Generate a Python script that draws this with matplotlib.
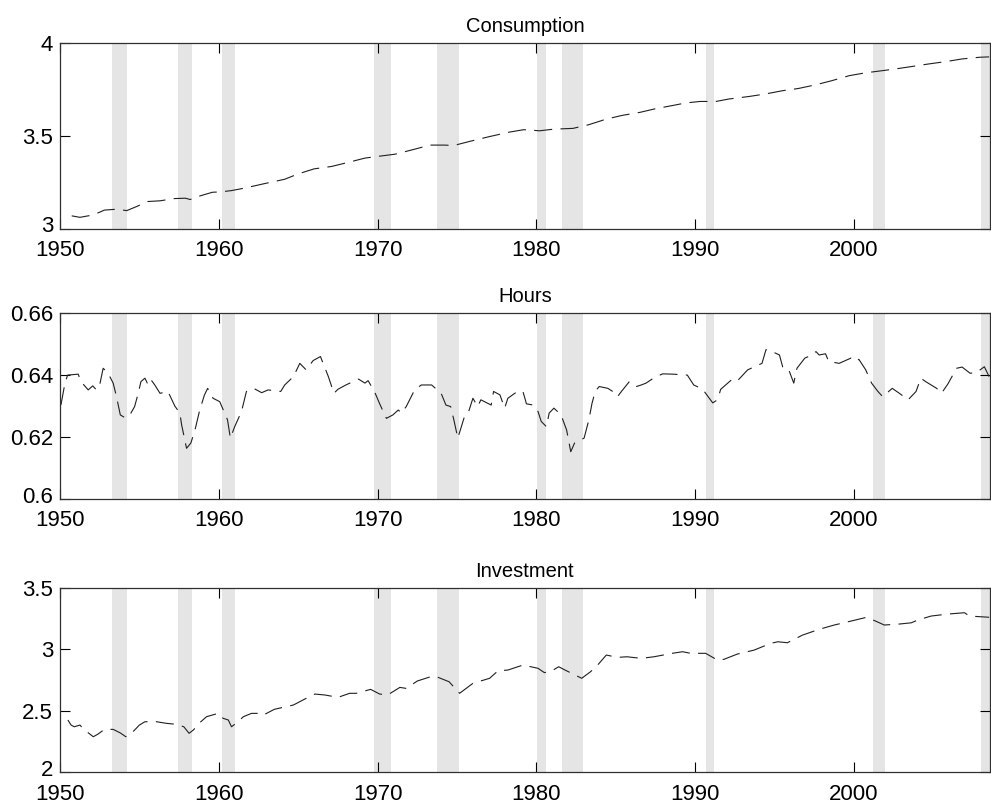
import matplotlib
matplotlib.use('Agg')
import numpy as np
from matplotlib import pyplot as plt
from matplotlib import transforms

# NBER recession bands
rec_start = [1953.25, 1957.44, 1960.21, 1969.77, 1973.75, 1980.04, 1981.6, 1990.67, 2001.2, 2007.97]
rec_end = [1954.2, 1958.32, 1961.0, 1970.82, 1975.1, 1980.63, 1982.9, 1991.2, 2001.97, 2009.5]

cons_year = [1950.74, 1951.26, 1952.1, 1952.8, 1953.6, 1954.2, 1954.85, 1955.5, 1956.3, 1957.2,
             1957.9, 1958.2, 1958.8, 1959.6, 1960.1, 1960.8, 1961.6, 1962.9, 1964.15, 1965.0,
             1966.0, 1967.1, 1968.2, 1969.2, 1970.0, 1971.1, 1972.2, 1973.3, 1974.2, 1974.8,
             1975.8, 1977.0, 1978.3, 1979.2, 1980.2, 1981.1, 1982.3, 1983.3, 1984.4, 1985.4,
             1986.5, 1987.5, 1988.5, 1989.4, 1990.3, 1991.3, 1992.1, 1993.4, 1994.4, 1995.5,
             1996.5, 1997.6, 1998.6, 1999.7, 2000.7, 2001.8, 2002.6, 2003.7, 2004.7, 2005.8,
             2006.8, 2007.9, 2008.5]
cons_val = [3.069, 3.061, 3.074, 3.100, 3.105, 3.097, 3.120, 3.146, 3.150, 3.162,
            3.164, 3.157, 3.176, 3.196, 3.198, 3.205, 3.218, 3.243, 3.266, 3.295,
            3.322, 3.335, 3.358, 3.380, 3.389, 3.401, 3.425, 3.450, 3.450, 3.448,
            3.470, 3.495, 3.520, 3.533, 3.527, 3.536, 3.540, 3.560, 3.590, 3.610,
            3.626, 3.646, 3.662, 3.677, 3.685, 3.685, 3.698, 3.712, 3.725, 3.743,
            3.755, 3.775, 3.797, 3.824, 3.839, 3.851, 3.860, 3.874, 3.887, 3.900,
            3.914, 3.923, 3.925]

hours_year = [1950.06, 1950.3, 1950.48, 1951.15, 1951.32, 1951.78, 1952.06, 1952.3, 1952.5, 1952.72,
              1953.03, 1953.35, 1953.56, 1953.8, 1954.1, 1954.4, 1954.7, 1954.9, 1955.1, 1955.35,
              1955.5, 1955.66, 1955.97, 1956.3, 1956.8, 1957.23, 1957.55, 1957.66, 1957.97, 1958.24,
              1958.5, 1958.8, 1959.1, 1959.3, 1959.64, 1960.06, 1960.55, 1960.73, 1961.0, 1961.43,
              1961.74, 1962.2, 1962.7, 1963.1, 1963.9, 1964.15, 1964.7, 1965.1, 1965.5, 1965.94,
              1966.4, 1966.9, 1967.25, 1967.5, 1968.0, 1968.8, 1969.2, 1969.4, 1969.8, 1970.13,
              1970.55, 1970.96, 1971.3, 1971.5, 1971.8, 1972.33, 1972.75, 1973.4, 1974.0, 1974.3,
              1974.6, 1974.8, 1975.05, 1975.47, 1975.7, 1976.0, 1976.3, 1976.5, 1977.15, 1977.3,
              1977.7, 1978.0, 1978.2, 1978.8, 1979.15, 1979.37, 1979.8, 1980.1, 1980.3, 1980.63,
              1980.8, 1981.1, 1981.55, 1981.9, 1982.16, 1982.4, 1983.0, 1983.3, 1983.5, 1983.7,
              1983.95, 1984.5, 1984.8, 1985.1, 1985.35, 1985.85, 1986.3, 1986.6, 1986.9, 1987.45,
              1987.95, 1988.6, 1989.5, 1989.9, 1990.45, 1991.1, 1991.4, 1991.6, 1992.4, 1992.7,
              1993.3, 1994.2, 1994.45, 1994.6, 1995.3, 1995.5, 1995.85, 1996.2, 1996.4, 1996.9,
              1997.35, 1997.6, 1997.8, 1998.2, 1998.4, 1999.06, 1999.8, 2000.08, 2000.3, 2000.73,
              2001.1, 2001.5, 2001.8, 2002.4, 2002.85, 2003.4, 2003.9, 2004.2, 2004.5, 2005.2,
              2005.5, 2005.9, 2006.45, 2006.8, 2007.3, 2007.7, 2008.2, 2008.5]
hours_val = [0.6303, 0.6370, 0.6400, 0.6403, 0.6379, 0.6352, 0.6365, 0.6352, 0.6368, 0.6422,
             0.6406, 0.6374, 0.6330, 0.6271, 0.6262, 0.6271, 0.6298, 0.6336, 0.6379, 0.6390,
             0.6374, 0.6390, 0.6368, 0.6341, 0.6347, 0.6300, 0.6277, 0.6239, 0.6163, 0.6180,
             0.6222, 0.6287, 0.6336, 0.6357, 0.6325, 0.6314, 0.6255, 0.6196, 0.6233, 0.6282,
             0.6347, 0.6357, 0.6343, 0.6352, 0.6347, 0.6368, 0.6395, 0.6438, 0.6417, 0.6447,
             0.6460, 0.6395, 0.6341, 0.6354, 0.6368, 0.6387, 0.6374, 0.6382, 0.6347, 0.6307,
             0.6260, 0.6271, 0.6287, 0.6277, 0.6298, 0.6352, 0.6368, 0.6368, 0.6341, 0.6303,
             0.6298, 0.6255, 0.6196, 0.6266, 0.6277, 0.6325, 0.6298, 0.6320, 0.6303, 0.6347,
             0.6336, 0.6293, 0.6325, 0.6347, 0.6347, 0.6307, 0.6303, 0.6282, 0.6250, 0.6233,
             0.6277, 0.6293, 0.6271, 0.6222, 0.6152, 0.6180, 0.6196, 0.6255, 0.6309, 0.6347,
             0.6363, 0.6357, 0.6347, 0.6330, 0.6347, 0.6379, 0.6363, 0.6368, 0.6374, 0.6393,
             0.6404, 0.6403, 0.6400, 0.6368, 0.6355, 0.6310, 0.6320, 0.6354, 0.6390, 0.6384,
             0.6417, 0.6438, 0.6482, 0.6482, 0.6465, 0.6427, 0.6422, 0.6374, 0.6422, 0.6455,
             0.6465, 0.6476, 0.6465, 0.6469, 0.6444, 0.6438, 0.6455, 0.6444, 0.6451, 0.6417,
             0.6374, 0.6347, 0.6330, 0.6357, 0.6341, 0.6320, 0.6347, 0.6390, 0.6379, 0.6357,
             0.6341, 0.6371, 0.6422, 0.6426, 0.6406, 0.6408, 0.6427, 0.6395]

inv_year = [1950.5, 1950.7, 1950.9, 1951.26, 1951.5, 1952.1, 1952.4, 1952.8, 1953.35, 1953.8,
            1954.15, 1954.6, 1955.0, 1955.35, 1956.08, 1956.7, 1957.34, 1957.8, 1958.13, 1958.4,
            1958.8, 1959.23, 1959.96, 1960.27, 1960.6, 1960.8, 1961.2, 1961.55, 1962.06, 1962.58,
            1962.8, 1963.5, 1964.7, 1965.5, 1966.05, 1966.7, 1967.5, 1968.24, 1968.65, 1969.56,
            1970.13, 1970.65, 1971.4, 1971.8, 1972.5, 1973.46, 1973.8, 1974.5, 1975.16, 1976.0,
            1977.05, 1977.58, 1978.2, 1979.16, 1980.1, 1980.5, 1980.97, 1981.4, 1981.8, 1982.85,
            1983.4, 1983.8, 1984.4, 1985.1, 1985.7, 1986.6, 1987.4, 1988.55, 1989.2, 1989.7,
            1990.65, 1991.4, 1991.8, 1992.65, 1993.7, 1994.75, 1995.2, 1995.8, 1996.75, 1997.8,
            1998.75, 1999.9, 2000.76, 2001.3, 2001.9, 2002.85, 2003.6, 2004.0, 2004.85, 2005.9,
            2006.95, 2007.25, 2008.0, 2008.5]
inv_val = [2.425, 2.384, 2.370, 2.384, 2.349, 2.289, 2.311, 2.349, 2.349, 2.320,
           2.289, 2.330, 2.384, 2.411, 2.411, 2.398, 2.390, 2.370, 2.317, 2.344,
           2.403, 2.452, 2.479, 2.439, 2.425, 2.370, 2.410, 2.452, 2.479, 2.479,
           2.465, 2.512, 2.547, 2.601, 2.636, 2.628, 2.609, 2.642, 2.642, 2.674,
           2.636, 2.630, 2.690, 2.682, 2.742, 2.782, 2.772, 2.736, 2.642, 2.723,
           2.764, 2.825, 2.831, 2.872, 2.845, 2.810, 2.825, 2.858, 2.831, 2.764,
           2.817, 2.864, 2.953, 2.934, 2.939, 2.926, 2.939, 2.967, 2.980, 2.967,
           2.967, 2.912, 2.918, 2.961, 2.993, 3.048, 3.061, 3.053, 3.115, 3.162,
           3.197, 3.232, 3.259, 3.232, 3.197, 3.205, 3.215, 3.237, 3.270, 3.286,
           3.297, 3.270, 3.264, 3.260]

titles = ['Consumption', 'Hours', 'Investment']
yticks = [[3, 3.5, 4], [0.6, 0.62, 0.64, 0.66], [2, 2.5, 3, 3.5]]
yticklabels = [['3', '3.5', '4'], ['0.6', '0.62', '0.64', '0.66'], ['2', '2.5', '3', '3.5']]
xticks = [1950, 1960, 1970, 1980, 1990, 2000]


def main():
    plt.rcParams['font.family'] = ['Liberation Sans', 'DejaVu Sans']
    plt.rcParams['lines.scale_dashes'] = False

    fig = plt.figure(figsize=(9.91, 8.06), dpi=100)
    boxes = [[0.0605, 0.7163, 0.9384, 0.2304],
             [0.0605, 0.3813, 0.9384, 0.2300],
             [0.0605, 0.0418, 0.9384, 0.2290]]
    series = [(cons_year, cons_val), (hours_year, hours_val), (inv_year, inv_val)]

    for i, box in enumerate(boxes):
        ax = fig.add_axes(box)
        for s, e in zip(rec_start, rec_end):
            ax.axvspan(s, e, color='#e5e5e5', lw=0, zorder=0)
        x, y = series[i]
        ax.plot(x, y, color='#202020', lw=0.8, dashes=(13, 6), zorder=2)

        ax.set_xlim(1950, 2008.55)
        ax.set_ylim(yticks[i][0], yticks[i][-1])
        ax.set_xticks(xticks)
        ax.set_xticklabels([str(t) for t in xticks])
        ax.set_yticks(yticks[i])
        ax.set_yticklabels(yticklabels[i])
        ax.tick_params(direction='in', top=True, right=True, length=7, width=0.8,
                       labelsize=16, colors='black')
        ax.tick_params(axis='x', pad=8.5)
        ax.tick_params(axis='y', pad=5)
        for sp in ax.spines.values():
            sp.set_color('#303030')
            sp.set_linewidth(0.9)
        ax.set_title(titles[i], fontsize=14.5, pad=8)

        # the lowest y label sits a little higher, as in the original
        low = ax.get_yticklabels()[0]
        low.set_transform(low.get_transform() +
                          transforms.ScaledTranslation(0, 3 / 72, fig.dpi_scale_trans))

    plt.savefig('out.png', dpi=100)
    plt.close('all')


if __name__ == "__main__":
    main()
